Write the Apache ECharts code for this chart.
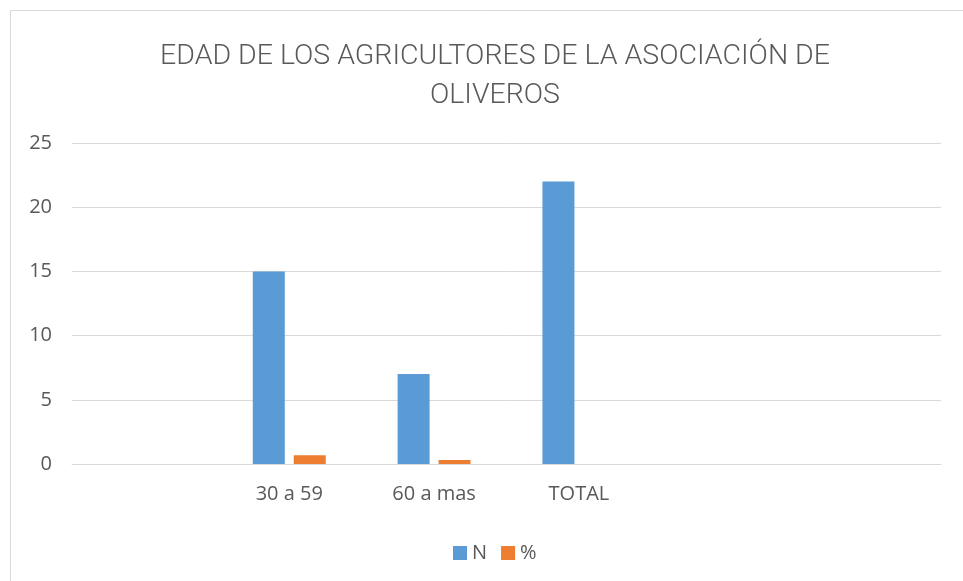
<!DOCTYPE html>
<html><head><meta charset="utf-8">
<script src="https://cdn.jsdelivr.net/npm/echarts@6/dist/echarts.min.js"></script>
<style>html,body{margin:0;padding:0;background:#fff}#c{width:963px;height:581px}</style>
</head><body><div id="c"></div>
<script>
var categories = ['', '30 a 59', '60 a mas', 'TOTAL', '', ''];
var seriesN = [null, 15, 7, 22, null, null];
var seriesPct = [null, 0.68, 0.32, null, null, null];
var yTicks = [0, 5, 10, 15, 20, 25];

var chart = echarts.init(document.getElementById('c'), null, {renderer: 'canvas'});
var font = 'Open Sans';
chart.setOption({
  animation: false,
  backgroundColor: '#fff',
  graphic: [{type: 'rect', shape: {x: 10.5, y: 10.5, width: 1000, height: 1000}, style: {fill: 'none', stroke: '#d9d9d9', lineWidth: 1}, silent: true}],
  title: {
    text: 'EDAD DE LOS AGRICULTORES DE LA ASOCIACIÓN DE\nOLIVEROS',
    left: 490, top: 32, textAlign: 'center',
    textStyle: {fontFamily: 'Roboto', fontWeight: 300, fontSize: 28.5, color: '#595959', lineHeight: 39.5}
  },
  legend: {
    data: ['N', '%'], left: 448, top: 538, itemWidth: 14, itemHeight: 14, itemGap: 14,
    icon: 'rect', textStyle: {fontFamily: font, fontSize: 20, color: '#595959'}
  },
  grid: {left: 72, right: 22, top: 143, bottom: 117},
  xAxis: {
    type: 'category', data: categories,
    axisLine: {lineStyle: {color: '#d9d9d9', width: 1}}, axisTick: {show: false},
    axisLabel: {fontFamily: font, fontSize: 20, color: '#595959', margin: 20}
  },
  yAxis: {
    type: 'value', min: 0, max: 25, interval: 5,
    axisLine: {show: false}, axisTick: {show: false},
    splitLine: {lineStyle: {color: '#d9d9d9', width: 1}},
    axisLabel: {fontFamily: font, fontSize: 20, color: '#595959', margin: 20,
      formatter: function (v) { return yTicks.indexOf(v) >= 0 ? String(v) : ''; }}
  },
  series: [
    {name: 'N', type: 'bar', data: seriesN, itemStyle: {color: '#5b9bd5'}, barWidth: 32, barGap: '28%'},
    {name: '%', type: 'bar', data: seriesPct, itemStyle: {color: '#ed7d31'}, barWidth: 32, barGap: '28%'}
  ]
});
</script></body></html>
